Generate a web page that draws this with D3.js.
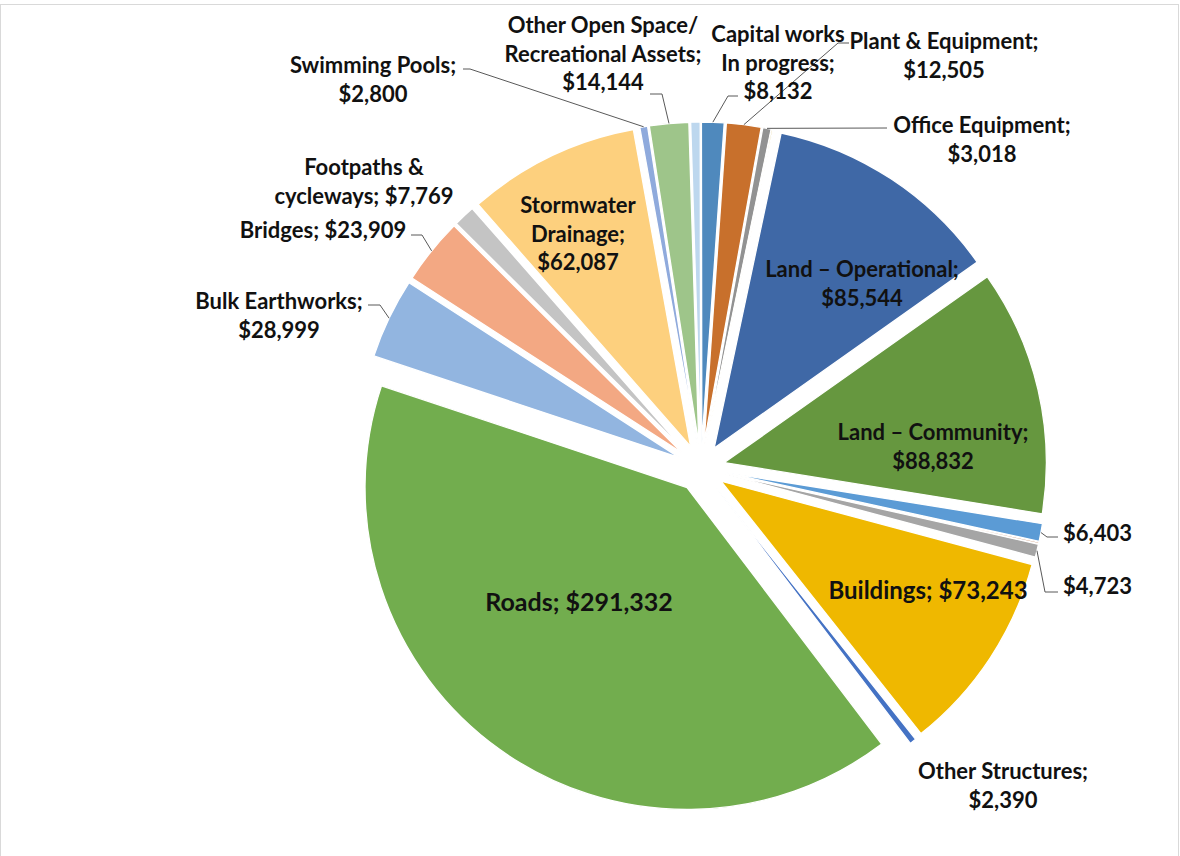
<!DOCTYPE html>
<html>
<head>
<meta charset="utf-8">
<script src="https://cdn.jsdelivr.net/npm/d3@7"></script>
<style>
  html, body { margin: 0; padding: 0; background: #ffffff; }
  svg { display: block; }
  text { font-family: Lato, "Open Sans", sans-serif; font-weight: 700; fill: #111111; }
</style>
</head>
<body>
<svg id="chart" width="1180" height="856"></svg>
<script>
// Asset classes in drawing order (clockwise), "\n" marks where a label wraps
const categories = [
  "Land – Operational", "Land – Community", "", "", "", "Buildings",
  "Other Structures", "Roads", "Bulk Earthworks", "Bridges",
  "Footpaths &\ncycleways", "Stormwater\nDrainage", "Swimming Pools",
  "Other Open Space/\nRecreational Assets", "", "Capital works\nIn progress",
  "Plant & Equipment", "Office Equipment", ""
];
// Written-down values ($'000)
const values = [
  85544, 88832, 6403, 600, 4723, 73243,
  2390, 291332, 28999, 23909,
  7769, 62087, 2800,
  14144, 3400, 8132,
  12505, 3018, 500
];
// Which slices carry a data label
const labelled = [
  true, true, true, false, true, true,
  true, true, true, true,
  true, true, true,
  true, false, true,
  true, true, false
];
// Whether the value sits on the same line as the category name
const inlineValue = [
  false, false, true, false, true, true,
  false, true, false, true,
  true, false, false,
  false, false, false,
  false, false, false
];
const colors = [
  "#3f68a6", "#66973f", "#5b9bd5", "#b8734b", "#a5a5a5", "#efb800",
  "#4472c4", "#72ad4e", "#92b5e0", "#f3a883",
  "#c4c4c4", "#fdd07e", "#8faadc",
  "#9ec58a", "#bdd7ee", "#4f89bd",
  "#c8702c", "#929292", "#bf9000"
];

// ---- layout ----
const W = 1180, H = 856;
const cx = 701, cy = 468;     // pie centre
const R = 322;                // slice radius
const explode = 24;           // every slice pulled out from the centre
const lineGap = 28.5;
const startDeg = 12;
const baseFont = 22;

// label anchor (centre of first line) and leader waypoints, per slice index
const labelPos = {
  0:  { x: 862,  y: 268 },
  1:  { x: 933,  y: 431 },
  2:  { x: 1063, y: 532, anchor: "start", leader: [[1047, 537], [1058, 537]] },
  4:  { x: 1063, y: 585, anchor: "start", leader: [[1045, 592], [1058, 592]] },
  5:  { x: 928,  y: 589, size: 24 },
  6:  { x: 1003, y: 770 },
  7:  { x: 579,  y: 601, size: 25 },
  8:  { x: 279,  y: 300, leader: [[380, 305], [368, 305]] },
  9:  { x: 323,  y: 229, leader: [[422, 235], [411, 235]] },
  10: { x: 364,  y: 166 },
  11: { x: 578,  y: 204 },
  12: { x: 373,  y: 64,  leader: [[470, 69], [463, 69]] },
  13: { x: 603,  y: 24,  leader: [[662, 94], [650, 94]] },
  15: { x: 778,  y: 33,  leader: [[728, 96], [738, 96]] },
  16: { x: 944,  y: 40,  leader: [[838, 43], [849, 43]] },
  17: { x: 982,  y: 124, leader: [[887, 128]] }
};

const svg = d3.select("#chart");

// chart area frame
svg.append("rect")
  .attr("x", 0.5).attr("y", 4.5)
  .attr("width", W - 2).attr("height", H + 20)
  .attr("fill", "#ffffff").attr("stroke", "#d9d9d9").attr("stroke-width", 1);

const data = values.map((v, i) => ({ i, value: v, name: categories[i] }));

const pie = d3.pie()
  .sort(null)
  .value(d => d.value)
  .startAngle(startDeg * Math.PI / 180)
  .endAngle(startDeg * Math.PI / 180 + 2 * Math.PI);

const arcs = pie(data);
const arc = d3.arc().innerRadius(0).outerRadius(R);

const g = svg.append("g").attr("transform", `translate(${cx},${cy})`);

const unit = a => [Math.sin(a), -Math.cos(a)];
const midAngle = d => (d.startAngle + d.endAngle) / 2;

g.selectAll("path.slice")
  .data(arcs)
  .join("path")
  .attr("class", "slice")
  .attr("d", arc)
  .attr("transform", d => {
    const [ux, uy] = unit(midAngle(d));
    return `translate(${ux * explode},${uy * explode})`;
  })
  .attr("fill", d => colors[d.data.i])
  .attr("stroke", "#ffffff")
  .attr("stroke-width", 1.3)
  .attr("stroke-linejoin", "round");

const fmt = d3.format(",");
const labelLines = i => {
  const money = "$" + fmt(values[i]);
  if (!categories[i]) return [money];
  const parts = categories[i].split("\n");
  parts[parts.length - 1] += ";";
  if (inlineValue[i]) parts[parts.length - 1] += " " + money;
  else parts.push(money);
  return parts;
};

// leader lines from the outer edge of each slice to its label
const leaders = svg.append("g")
  .attr("fill", "none").attr("stroke", "#595959").attr("stroke-width", 1);

arcs.forEach(d => {
  const i = d.data.i;
  const pos = labelPos[i];
  if (!labelled[i] || !pos || !pos.leader) return;
  const [ux, uy] = unit(midAngle(d));
  const pts = [[cx + ux * (R + explode), cy + uy * (R + explode)], ...pos.leader];
  leaders.append("path").attr("d", d3.line()(pts));
});

// data labels
const labels = svg.append("g");
arcs.forEach(d => {
  const i = d.data.i;
  const pos = labelPos[i];
  if (!labelled[i] || !pos) return;
  const t = labels.append("text")
    .attr("font-size", pos.size || baseFont)
    .attr("text-anchor", pos.anchor || "middle")
    .attr("dominant-baseline", "central");
  labelLines(i).forEach((line, k) => {
    t.append("tspan")
      .attr("x", pos.x)
      .attr("y", pos.y + k * lineGap)
      .text(line);
  });
});
</script>
</body>
</html>
